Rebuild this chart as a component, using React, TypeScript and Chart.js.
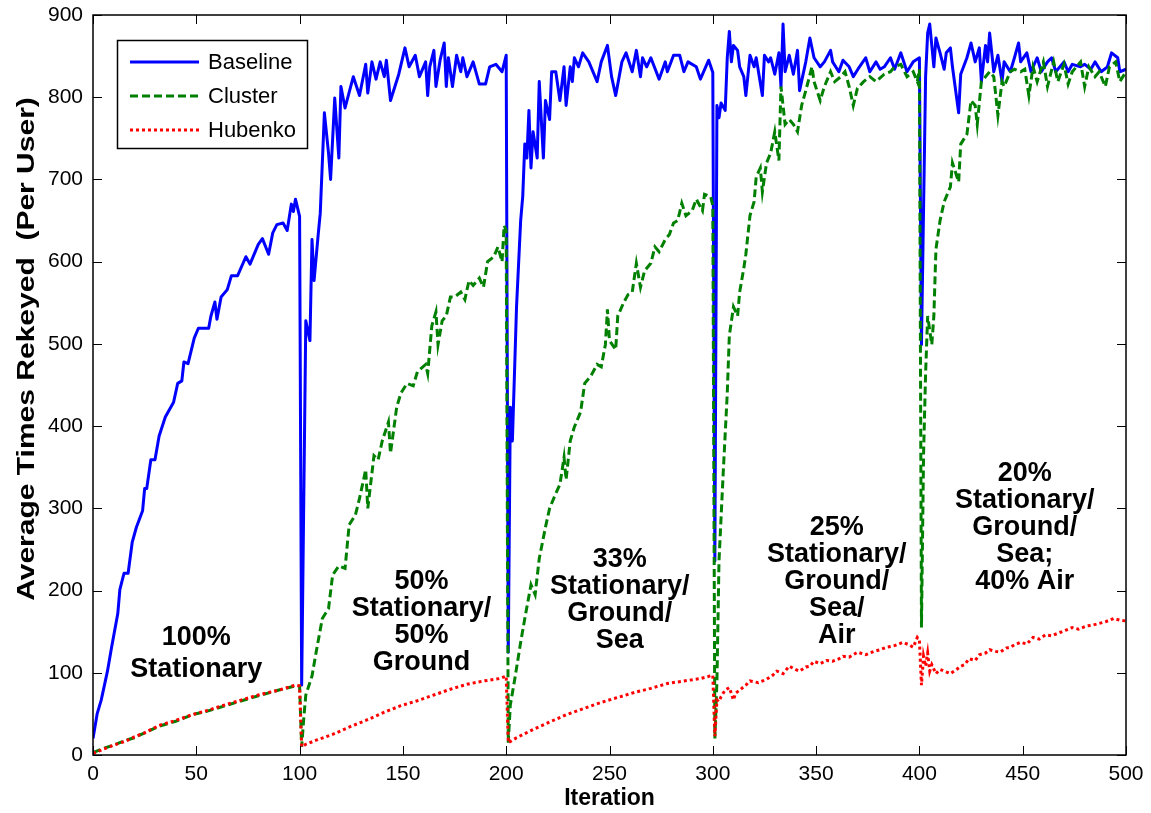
import React, { useEffect, useRef } from "react";
import { Chart, registerables } from "chart.js";

Chart.register(...registerables);

const FONT = "'Liberation Sans', Arial, Helvetica, sans-serif";

const xTicks = [0, 50, 100, 150, 200, 250, 300, 350, 400, 450, 500];
const yTicks = [0, 100, 200, 300, 400, 500, 600, 700, 800, 900];

const seriesLabels = ["Baseline", "Cluster", "Hubenko"];
const xAxisTitle = "Iteration";
const yAxisTitle = "Average Times Rekeyed  (Per User)";

const baselineX = [
  0, 2, 4, 7, 9, 12, 13, 15, 17, 19, 21, 24, 25, 26, 28, 30, 32, 35, 39, 41, 43, 44, 46, 49, 51, 56, 57, 59, 60, 62,
  65, 67, 70, 74, 76, 80, 82, 85, 87, 89, 92, 94, 96, 97, 98, 100, 101, 103, 105, 106, 107, 109, 110, 112, 114, 115,
  117, 119, 120, 122, 126, 129, 132, 133, 135, 137, 139, 141, 142, 144, 148, 151, 153, 156, 158, 161, 162, 163, 165,
  166, 168, 170, 171, 172, 174, 176, 178, 179, 181, 184, 187, 190, 192, 195, 198, 200, 201, 202, 203, 205, 207, 208,
  209, 210, 211, 212, 213, 215, 216, 218, 219, 221, 222, 224, 226, 228, 229, 231, 232, 233, 235, 237, 240, 244, 246,
  249, 251, 253, 256, 258, 261, 263, 265, 266, 268, 270, 274, 277, 278, 281, 284, 286, 288, 292, 294, 298, 300, 301,
  302, 303, 304, 306, 307, 308, 309, 310, 312, 313, 315, 316, 318, 320, 321, 324, 325, 327, 328, 330, 332, 333, 334,
  335, 337, 339, 341, 342, 345, 347, 349, 352, 354, 357, 358, 361, 363, 366, 368, 371, 374, 376, 379, 381, 383, 386,
  388, 391, 394, 397, 400, 401, 403, 404, 405, 407, 408, 410, 412, 413, 415, 416, 419, 420, 423, 425, 427, 429, 430,
  432, 433, 434, 436, 438, 440, 441, 444, 446, 448, 449, 452, 454, 457, 459, 462, 464, 466, 470, 472, 474, 478, 480,
  483, 485, 488, 491, 493, 496, 497, 500,
];
const baselineY = [
  20, 50, 67, 102, 131, 172, 201, 221, 221, 259, 277, 297, 324, 324, 359, 359, 388, 411, 429, 452, 455, 478, 476, 507,
  519, 519, 533, 551, 530, 557, 566, 583, 583, 606, 597, 621, 628, 609, 635, 645, 647, 638, 670, 661, 676, 655, 85,
  528, 504, 627, 577, 633, 659, 781, 732, 700, 799, 726, 813, 787, 825, 802, 840, 805, 843, 822, 843, 825, 845, 796,
  828, 860, 837, 851, 825, 843, 802, 837, 857, 813, 845, 866, 813, 848, 813, 851, 831, 848, 825, 843, 816, 816, 837,
  840, 831, 851, 125, 423, 382, 545, 650, 679, 743, 726, 784, 714, 758, 726, 819, 726, 796, 773, 831, 831, 796, 837,
  790, 837, 819, 848, 837, 854, 843, 819, 843, 863, 825, 802, 843, 854, 831, 857, 825, 848, 837, 848, 822, 843, 831,
  851, 851, 831, 843, 837, 822, 845, 830, 236, 790, 775, 793, 784, 848, 880, 843, 863, 857, 837, 825, 802, 851, 837,
  848, 802, 851, 843, 848, 828, 854, 813, 889, 831, 851, 828, 857, 808, 843, 872, 848, 837, 843, 857, 843, 831, 845,
  837, 825, 837, 848, 831, 843, 834, 837, 848, 834, 854, 831, 843, 848, 499, 825, 878, 889, 837, 872, 854, 834, 854,
  860, 837, 781, 828, 848, 866, 843, 860, 819, 863, 843, 878, 831, 851, 819, 843, 831, 848, 866, 843, 854, 831, 848,
  831, 843, 848, 831, 843, 831, 840, 837, 840, 834, 843, 831, 837, 854, 848, 831, 834,
];

const clusterX = [
  0, 5, 10, 16, 20, 25, 32, 40, 48, 55, 64, 72, 80, 90, 98, 100, 101, 102, 103, 106, 108, 111, 114, 116, 119, 122, 124,
  127, 129, 132, 133, 136, 138, 140, 143, 144, 147, 149, 152, 155, 157, 161, 162, 164, 166, 167, 169, 171, 173, 175,
  178, 180, 182, 184, 187, 189, 191, 194, 196, 198, 199, 200, 201, 202, 204, 207, 209, 212, 214, 216, 219, 221, 224,
  226, 228, 229, 231, 233, 236, 238, 241, 244, 246, 248, 249, 250, 253, 254, 257, 259, 261, 263, 265, 267, 270, 272,
  274, 277, 279, 281, 283, 285, 287, 290, 292, 295, 296, 299, 300, 301, 302, 303, 305, 307, 308, 310, 312, 313, 315,
  316, 318, 320, 321, 323, 324, 326, 328, 330, 332, 333, 335, 337, 339, 341, 343, 345, 348, 349, 352, 354, 357, 359,
  362, 364, 366, 368, 370, 373, 376, 379, 383, 386, 388, 391, 394, 397, 399, 400, 401, 402, 403, 404, 406, 407, 408,
  410, 412, 415, 416, 419, 420, 423, 425, 427, 428, 430, 432, 434, 436, 438, 440, 441, 444, 446, 449, 451, 453, 455,
  457, 460, 462, 465, 467, 470, 472, 474, 478, 480, 482, 485, 487, 490, 492, 495, 497, 500,
];
const clusterY = [
  3, 8, 12, 18, 21, 27, 35, 41, 49, 53, 60, 66, 72, 79, 84, 84, 10, 44, 73, 96, 125, 166, 178, 219, 230, 227, 280, 292,
  312, 347, 300, 364, 359, 382, 405, 367, 423, 440, 452, 449, 466, 475, 464, 522, 539, 499, 528, 534, 557, 557, 563,
  554, 577, 571, 580, 569, 600, 606, 618, 600, 644, 638, 15, 61, 90, 137, 166, 207, 195, 239, 277, 300, 318, 329, 362,
  335, 382, 399, 417, 452, 461, 475, 472, 499, 542, 504, 493, 534, 551, 560, 563, 598, 569, 589, 598, 618, 612, 627,
  633, 647, 650, 671, 656, 662, 676, 662, 682, 679, 668, 20, 90, 236, 341, 440, 510, 545, 534, 563, 592, 609, 656, 673,
  703, 714, 685, 720, 732, 758, 723, 813, 767, 773, 767, 758, 790, 808, 837, 819, 796, 813, 831, 819, 825, 831, 813,
  790, 811, 819, 825, 819, 828, 831, 837, 840, 825, 831, 819, 834, 155, 364, 464, 534, 499, 534, 615, 650, 673, 691,
  720, 697, 743, 755, 796, 790, 767, 819, 825, 831, 825, 778, 819, 813, 831, 834, 831, 834, 802, 837, 819, 843, 813,
  843, 819, 840, 816, 831, 843, 813, 837, 825, 831, 813, 837, 843, 819, 831,
];

const hubenkoX = [
  0, 5, 10, 16, 20, 25, 32, 40, 48, 55, 64, 72, 80, 90, 98, 100, 101, 103, 108, 116, 124, 132, 141, 149, 157, 165, 173,
  181, 189, 197, 200, 201, 205, 213, 221, 229, 238, 246, 254, 262, 270, 278, 286, 294, 300, 301, 302, 303, 304, 306,
  308, 310, 311, 313, 316, 318, 322, 326, 329, 331, 334, 337, 340, 342, 345, 347, 349, 352, 355, 358, 361, 363, 366,
  370, 374, 378, 381, 384, 388, 392, 395, 397, 399, 400, 401, 402, 403, 404, 405, 406, 408, 410, 412, 415, 418, 420,
  422, 424, 427, 429, 432, 434, 437, 439, 442, 444, 446, 449, 452, 455, 458, 461, 464, 468, 471, 474, 477, 481, 484,
  487, 490, 494, 497, 500,
];
const hubenkoY = [
  2, 7, 12, 17, 22, 27, 36, 42, 49, 54, 61, 67, 73, 79, 85, 84, 10, 13, 18, 25, 34, 42, 52, 60, 66, 73, 80, 86, 90, 93,
  96, 15, 21, 31, 40, 49, 57, 64, 70, 76, 81, 87, 90, 93, 97, 23, 67, 65, 71, 79, 82, 67, 75, 79, 85, 90, 88, 92, 97,
  102, 99, 108, 104, 102, 107, 108, 114, 111, 115, 114, 117, 120, 119, 125, 122, 126, 128, 131, 133, 137, 134, 131, 143,
  140, 85, 120, 108, 124, 102, 110, 99, 104, 102, 99, 104, 108, 110, 117, 115, 122, 124, 128, 126, 125, 130, 131, 134,
  137, 135, 143, 141, 146, 145, 149, 152, 155, 153, 157, 158, 160, 162, 166, 164, 163,
];

const annotationText = [
  { x: 50, y: 143, gap: 32, lines: ["100%", "Stationary"] },
  { x: 159, y: 211, gap: 27, lines: ["50%", "Stationary/", "50%", "Ground"] },
  { x: 255, y: 238, gap: 27, lines: ["33%", "Stationary/", "Ground/", "Sea"] },
  { x: 360, y: 277, gap: 27, lines: ["25%", "Stationary/", "Ground/", "Sea/", "Air"] },
  { x: 451, y: 342, gap: 27, lines: ["20%", "Stationary/", "Ground/", "Sea;", "40% Air"] },
];

const toPoints = (xs: number[], ys: number[]) => xs.map((x, i) => ({ x, y: ys[i] }));

const framePlugin = {
  id: "matlabFrame",
  afterDatasetsDraw(chart: any) {
    const { ctx, chartArea: a, scales } = chart;
    ctx.save();
    // annotations
    ctx.fillStyle = "#000";
    ctx.font = `bold 27px ${FONT}`;
    ctx.textAlign = "center";
    ctx.textBaseline = "middle";
    annotationText.forEach((t) => {
      const cx = scales.x.getPixelForValue(t.x);
      const cy = scales.y.getPixelForValue(t.y);
      t.lines.forEach((ln, i) => ctx.fillText(ln, cx, cy + i * t.gap));
    });
    // frame
    ctx.strokeStyle = "#000";
    ctx.lineWidth = 1.5;
    ctx.strokeRect(a.left, a.top, a.right - a.left, a.bottom - a.top);
    ctx.lineWidth = 1;
    const L = 9;
    ctx.beginPath();
    xTicks.forEach((v) => {
      const px = Math.round(scales.x.getPixelForValue(v)) + 0.5;
      ctx.moveTo(px, a.bottom);
      ctx.lineTo(px, a.bottom - L);
      ctx.moveTo(px, a.top);
      ctx.lineTo(px, a.top + L);
    });
    yTicks.forEach((v) => {
      const py = Math.round(scales.y.getPixelForValue(v)) + 0.5;
      ctx.moveTo(a.left, py);
      ctx.lineTo(a.left + L, py);
      ctx.moveTo(a.right, py);
      ctx.lineTo(a.right - L, py);
    });
    ctx.stroke();
    // y axis title (slightly stretched along its length, like the reference)
    ctx.save();
    ctx.translate(27, 349);
    ctx.rotate(-Math.PI / 2);
    ctx.scale(1.25, 1);
    ctx.fillStyle = "#000";
    ctx.font = `bold 24px ${FONT}`;
    ctx.textAlign = "center";
    ctx.textBaseline = "middle";
    ctx.fillText(yAxisTitle, 0, 0);
    ctx.restore();
    // legend
    const bx = 117.5, by = 40.5, bw = 190, bh = 108;
    ctx.fillStyle = "#fff";
    ctx.fillRect(bx, by, bw, bh);
    ctx.strokeStyle = "#000";
    ctx.lineWidth = 1.5;
    ctx.strokeRect(bx, by, bw, bh);
    chart.data.datasets.forEach((ds: any, i: number) => {
      const y = 62 + i * 34;
      ctx.beginPath();
      ctx.strokeStyle = ds.borderColor;
      ctx.lineWidth = ds.borderWidth;
      ctx.setLineDash(ds.borderDash || []);
      ctx.moveTo(130, y);
      ctx.lineTo(199, y);
      ctx.stroke();
      ctx.setLineDash([]);
      ctx.fillStyle = "#000";
      ctx.font = `22px ${FONT}`;
      ctx.textAlign = "left";
      ctx.textBaseline = "middle";
      ctx.fillText(ds.label, 208, y + 1);
    });
    ctx.restore();
  },
};

export default function App() {
  const ref = useRef<HTMLCanvasElement>(null);
  useEffect(() => {
    const canvas = ref.current;
    if (!canvas) return;
    const chart = new Chart(canvas, {
      type: "line",
      data: {
        datasets: [
          {
            label: seriesLabels[0],
            data: toPoints(baselineX, baselineY),
            borderColor: "#0000ff",
            borderWidth: 3,
            pointRadius: 0,
            tension: 0,
            borderJoinStyle: "round",
            order: 3,
          },
          {
            label: seriesLabels[1],
            data: toPoints(clusterX, clusterY),
            borderColor: "#008000",
            borderWidth: 3,
            borderDash: [8, 4],
            pointRadius: 0,
            tension: 0,
            order: 2,
          },
          {
            label: seriesLabels[2],
            data: toPoints(hubenkoX, hubenkoY),
            borderColor: "#ff0000",
            borderWidth: 3,
            borderDash: [3, 3],
            pointRadius: 0,
            tension: 0,
            order: 1,
          },
        ],
      },
      options: {
        animation: false,
        responsive: false,
        devicePixelRatio: 1,
        layout: { padding: { left: 0, right: 25, top: 15, bottom: 0 } },
        plugins: { legend: { display: false }, tooltip: { enabled: false } },
        scales: {
          x: {
            type: "linear",
            min: 0,
            max: 500,
            afterBuildTicks: (s: any) => {
              s.ticks = xTicks.map((v) => ({ value: v }));
            },
            afterFit: (s: any) => {
              s.height = 58;
              s.paddingLeft = 0;
              s.paddingRight = 0;
            },
            grid: { display: false, drawTicks: false },
            border: { display: false },
            ticks: { color: "#000", font: { family: FONT, size: 21 }, padding: 7, maxRotation: 0, autoSkip: false },
            title: {
              display: true,
              text: xAxisTitle,
              color: "#000",
              font: { family: FONT, size: 23, weight: "bold" },
              padding: { top: 0, bottom: 1 },
            },
          },
          y: {
            type: "linear",
            min: 0,
            max: 900,
            afterBuildTicks: (s: any) => {
              s.ticks = yTicks.map((v) => ({ value: v }));
            },
            afterFit: (s: any) => {
              s.width = 93;
              s.paddingTop = 0;
              s.paddingBottom = 0;
            },
            grid: { display: false, drawTicks: false },
            border: { display: false },
            ticks: { color: "#000", font: { family: FONT, size: 21 }, padding: 10, autoSkip: false },
            title: { display: false },
          },
        },
      },
      plugins: [framePlugin],
    } as any);
    return () => chart.destroy();
  }, []);
  return (
    <div style={{ position: "absolute", left: 0, top: 0, width: 1151, height: 813, background: "#fff" }}>
      <canvas ref={ref} width={1151} height={813} style={{ display: "block", width: 1151, height: 813 }} />
    </div>
  );
}
